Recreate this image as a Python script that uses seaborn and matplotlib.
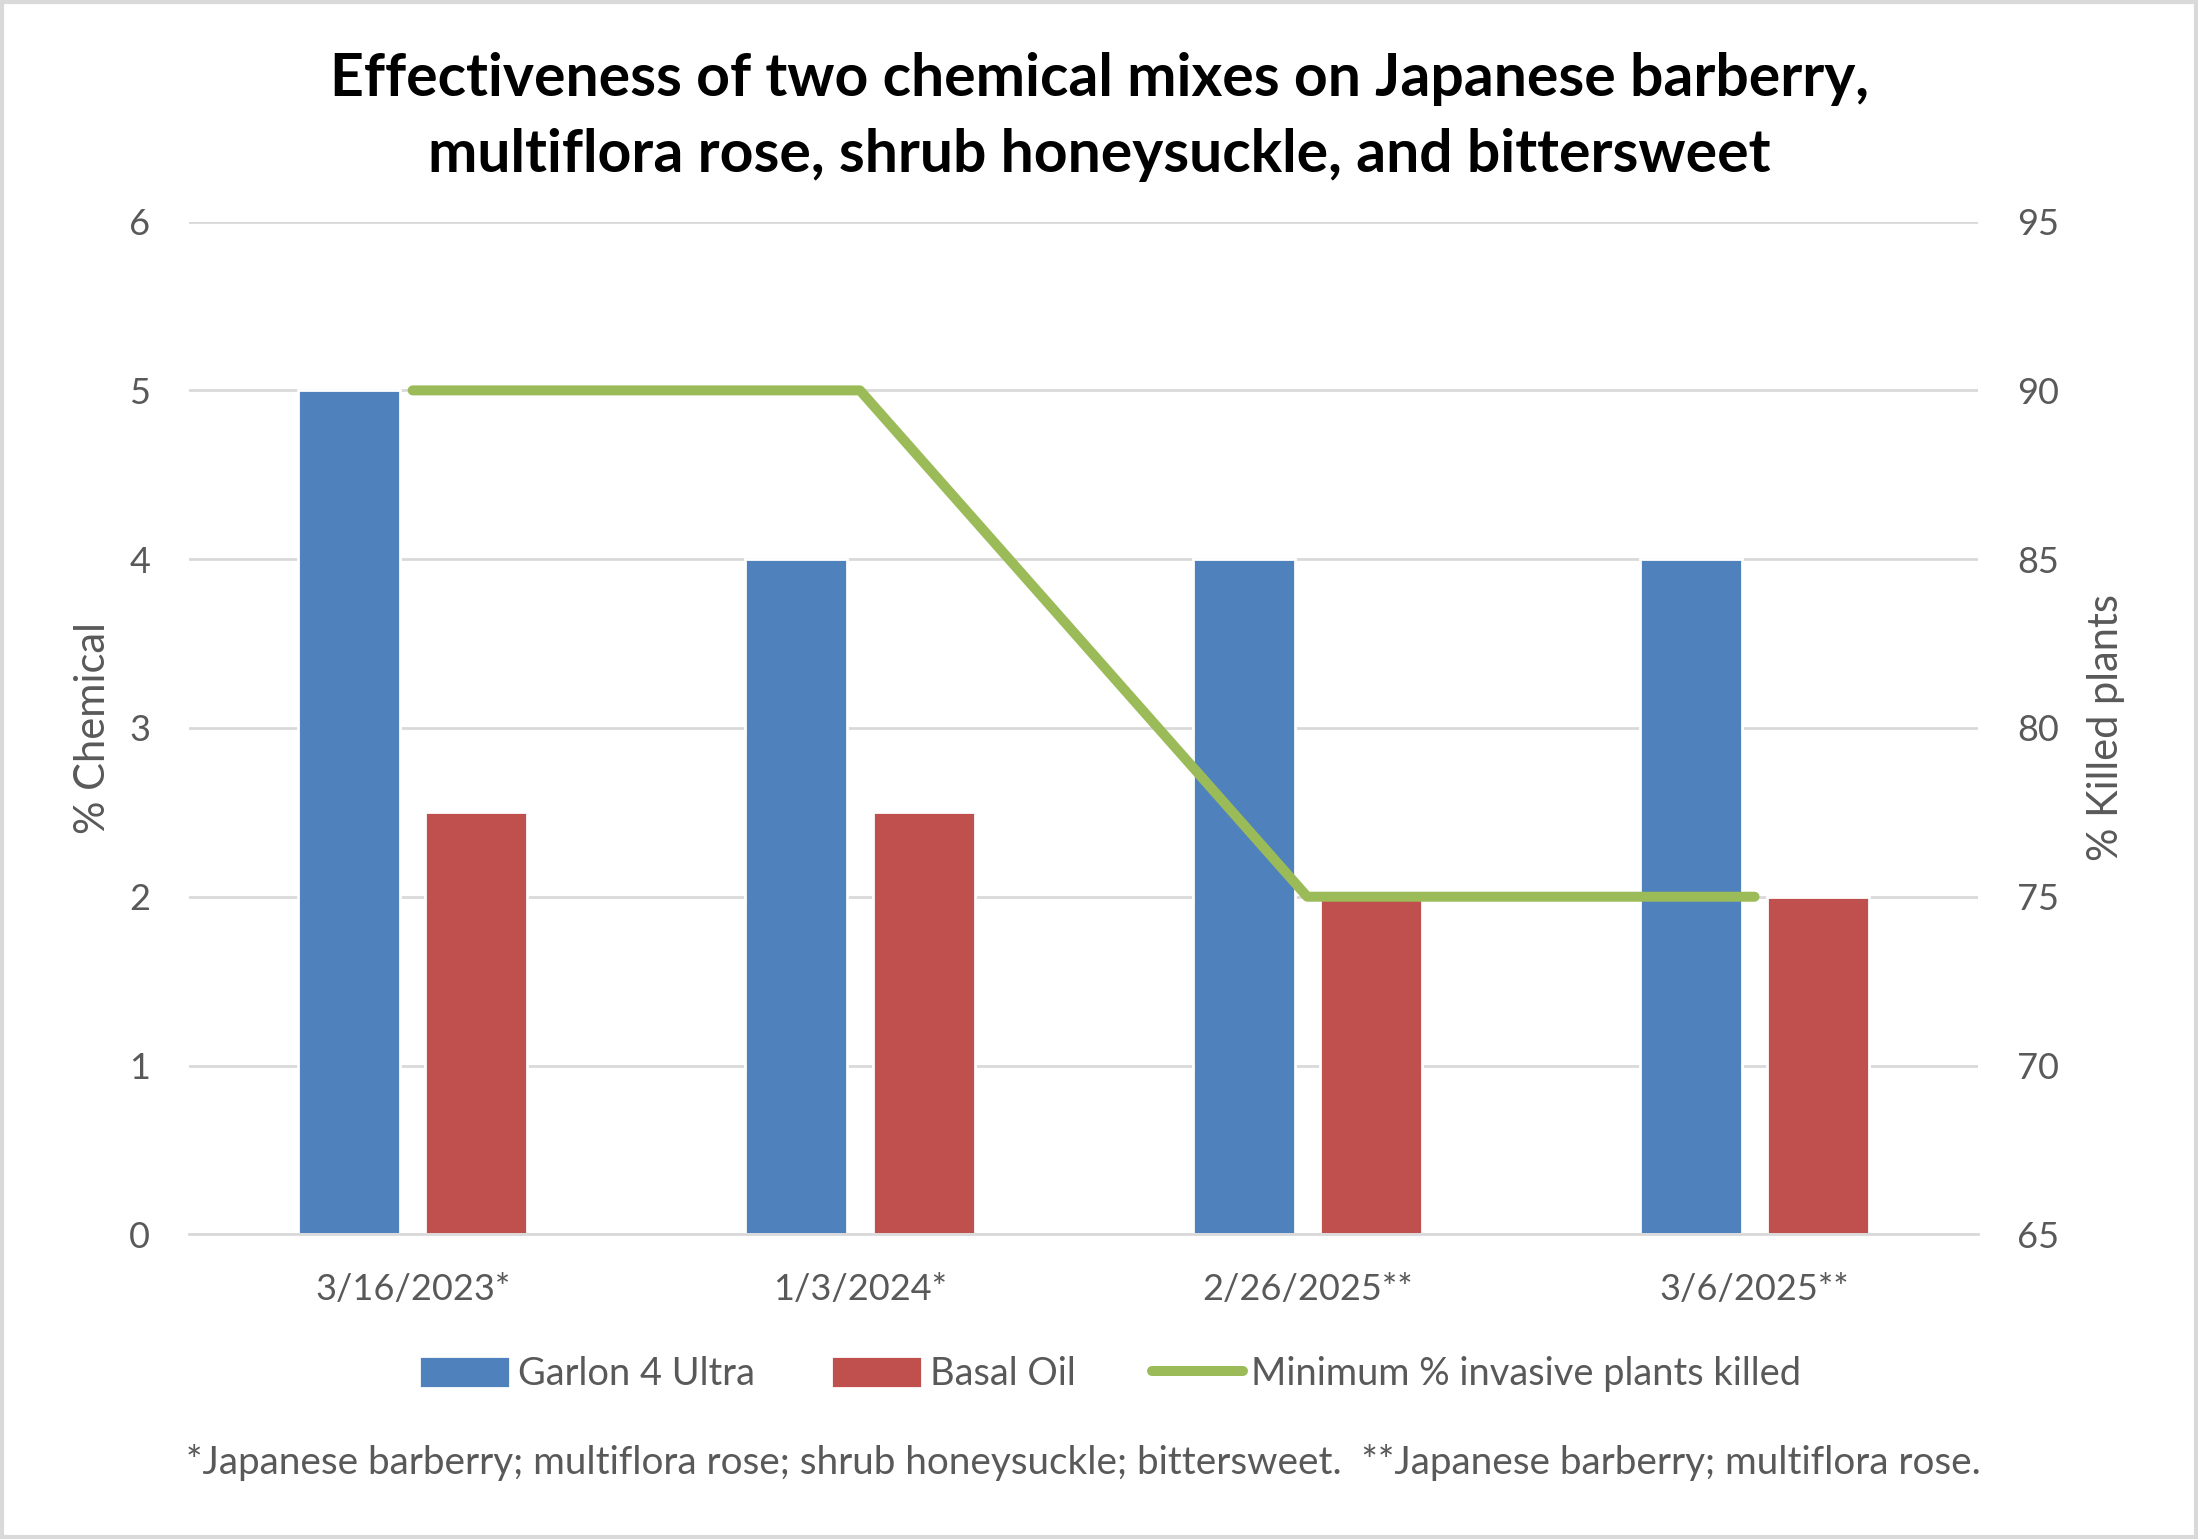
import matplotlib

matplotlib.use("Agg")
import matplotlib.pyplot as plt
import pandas as pd
import seaborn as sns
from matplotlib.lines import Line2D
from matplotlib.patches import Patch, Rectangle

DATES = ["3/16/2023*", "1/3/2024*", "2/26/2025**", "3/6/2025**"]
GARLON = [5, 4, 4, 4]
BASAL_OIL = [2.5, 2.5, 2, 2]
MIN_KILLED = [90, 90, 75, 75]
SERIES = ["Garlon 4 Ultra", "Basal Oil"]
LINE_LABEL = "Minimum % invasive plants killed"

TITLE = "Effectiveness of two chemical mixes on Japanese barberry,\nmultiflora rose, shrub honeysuckle, and bittersweet"
FOOTNOTE = ("*Japanese barberry; multiflora rose; shrub honeysuckle; bittersweet.  "
            "**Japanese barberry; multiflora rose.")

BLUE = "#4F81BD"
RED = "#C0504D"
GREEN = "#9BBB59"
TEXT = "#595959"
GRID = "#D9D9D9"


def main() -> None:
    sns.set_theme(style="white")
    plt.rcParams["font.family"] = ["Lato", "DejaVu Sans"]

    bars = pd.DataFrame(
        {
            "date": DATES * 2,
            "series": [SERIES[0]] * len(DATES) + [SERIES[1]] * len(DATES),
            "value": GARLON + BASAL_OIL,
        }
    )
    killed = pd.DataFrame({"date": DATES, "killed": MIN_KILLED})

    fig = plt.figure(figsize=(10.99, 7.695), dpi=200)
    ax = fig.add_axes([0.086, 0.198, 0.814, 0.658])
    sns.barplot(
        data=bars,
        x="date",
        y="value",
        hue="series",
        palette=[BLUE, RED],
        width=0.57,
        gap=0.2,
        saturation=1,
        legend=False,
        ax=ax,
    )
    ax.set_xlim(-0.5, len(DATES) - 0.5)
    ax.set_ylim(0, 6)
    ax.set_yticks(range(0, 7))
    ax.yaxis.grid(True, color=GRID, linewidth=1.0)
    ax.set_axisbelow(True)
    for side in ["top", "right", "left"]:
        ax.spines[side].set_visible(False)
    ax.spines["bottom"].set_color(GRID)
    ax.spines["bottom"].set_linewidth(1.0)
    ax.tick_params(axis="both", length=0, labelsize=13, labelcolor=TEXT, pad=14)
    ax.set_xlabel("")
    ax.set_ylabel("% Chemical", fontsize=15, color=TEXT, labelpad=6)

    ax2 = ax.twinx()
    sns.lineplot(
        data=killed,
        x="date",
        y="killed",
        color=GREEN,
        linewidth=3.6,
        solid_capstyle="round",
        sort=False,
        ax=ax2,
    )
    ax2.set_ylim(65, 95)
    ax2.set_yticks(range(65, 96, 5))
    ax2.grid(False)
    for side in ["top", "right", "left", "bottom"]:
        ax2.spines[side].set_visible(False)
    ax2.tick_params(axis="y", length=0, labelsize=13, labelcolor=TEXT, pad=14)
    ax2.set_ylabel("% Killed plants", fontsize=15, color=TEXT, labelpad=10, rotation=90)
    ax2.set_xlim(-0.5, len(DATES) - 0.5)

    fig.suptitle(TITLE, x=0.5, y=0.966, fontsize=21.2, fontweight="bold", color="black",
                 linespacing=1.5)

    handles = [
        Patch(facecolor=BLUE, label=SERIES[0]),
        Patch(facecolor=RED, label=SERIES[1]),
        Line2D([0], [0], color=GREEN, linewidth=3.6, solid_capstyle="round", label=LINE_LABEL),
    ]
    fig.legend(
        handles=handles,
        loc="center",
        bbox_to_anchor=(0.505, 0.107),
        ncol=3,
        frameon=False,
        fontsize=13.7,
        labelcolor=TEXT,
        handlelength=2.4,
        handleheight=0.9,
        handletextpad=0.2,
        columnspacing=2.0,
    )
    fig.text(0.493, 0.05, FOOTNOTE, ha="center", va="center", fontsize=13.9, color=TEXT)

    fig.patches.append(
        Rectangle((0.001, 0.001), 0.998, 0.998, transform=fig.transFigure,
                  fill=False, edgecolor=GRID, linewidth=1.5)
    )
    fig.savefig("out.png", dpi=200, facecolor="white")
    plt.close(fig)


if __name__ == "__main__":
    main()
